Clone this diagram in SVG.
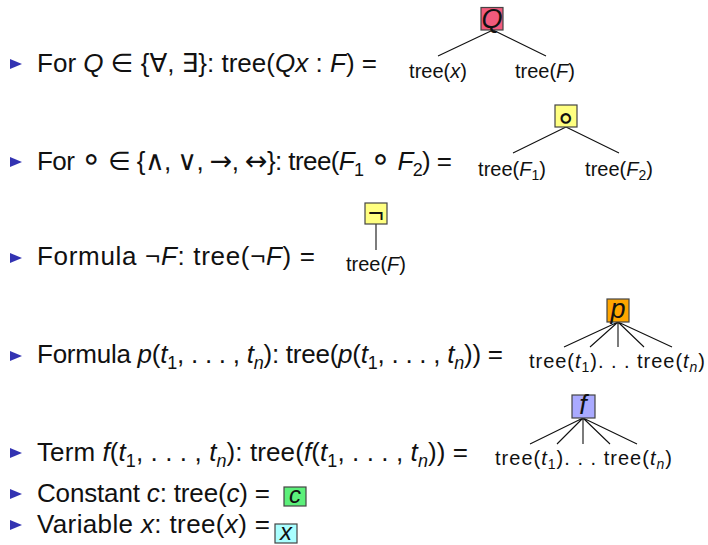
<svg xmlns="http://www.w3.org/2000/svg" width="708" height="545" viewBox="0 0 708 545">
<defs>
<style>
.t{font-family:"Liberation Sans","DejaVu Sans",sans-serif;font-size:26px;fill:#111}
.s{font-family:"Liberation Sans","DejaVu Sans",sans-serif;font-size:20px;fill:#111}
.b{font-family:"Liberation Sans","DejaVu Sans",sans-serif;font-size:27px;fill:#111}
.bs{font-family:"Liberation Sans","DejaVu Sans",sans-serif;font-size:24px;fill:#111}
.i{font-style:italic}
.sym{font-family:"DejaVu Sans",sans-serif;font-size:27px}
.ring{font-family:"DejaVu Sans",sans-serif;font-size:34px}
.sub{font-size:18px}
.ssub{font-size:14px}
.box{stroke:#444;stroke-width:1.2}
.edge{stroke:#111;stroke-width:1.1;fill:none}
.bul{fill:#3333b2}
</style>
<path id="bullet" d="M0,-5 L12,0 L0,5 Z"/>
</defs>
<rect width="708" height="545" fill="#fff"/>

<g id="bullets" class="bul">
<use href="#bullet" x="10" y="64"/>
<use href="#bullet" x="10" y="162"/>
<use href="#bullet" x="10" y="258"/>
<use href="#bullet" x="10" y="356"/>
<use href="#bullet" x="10" y="453"/>
<use href="#bullet" x="10" y="494"/>
<use href="#bullet" x="10" y="525"/>
</g>

<g id="lines">
<text class="t" x="37" y="72" textLength="340">For <tspan class="i">Q</tspan> ∈ {∀, ∃}: tree(<tspan class="i">Qx</tspan> : <tspan class="i">F</tspan>) =</text>
<text class="t" x="37" y="170" textLength="415">For <tspan class="ring">∘</tspan> ∈ {<tspan class="sym">∧</tspan>, <tspan class="sym">∨</tspan>, <tspan class="sym">→</tspan>, <tspan class="sym">↔</tspan>}: tree(<tspan class="i">F</tspan><tspan class="sub" dy="6">1</tspan><tspan dy="-6"> </tspan><tspan class="ring">∘</tspan> <tspan class="i">F</tspan><tspan class="sub" dy="6">2</tspan><tspan dy="-6">) =</tspan></text>
<text class="t" x="37" y="265" textLength="278">Formula ¬<tspan class="i">F</tspan>: tree(¬<tspan class="i">F</tspan>) =</text>
<text class="t" x="37" y="363" textLength="466">Formula <tspan class="i">p</tspan>(<tspan class="i">t</tspan><tspan class="sub" dy="6">1</tspan><tspan dy="-6">, . . . , </tspan><tspan class="i">t</tspan><tspan class="sub i" dy="6">n</tspan><tspan dy="-6">): tree(</tspan><tspan class="i">p</tspan>(<tspan class="i">t</tspan><tspan class="sub" dy="6">1</tspan><tspan dy="-6">, . . . , </tspan><tspan class="i">t</tspan><tspan class="sub i" dy="6">n</tspan><tspan dy="-6">)) =</tspan></text>
<text class="t" x="37" y="461" textLength="431">Term <tspan class="i">f</tspan>(<tspan class="i">t</tspan><tspan class="sub" dy="6">1</tspan><tspan dy="-6">, . . . , </tspan><tspan class="i">t</tspan><tspan class="sub i" dy="6">n</tspan><tspan dy="-6">): tree(</tspan><tspan class="i">f</tspan>(<tspan class="i">t</tspan><tspan class="sub" dy="6">1</tspan><tspan dy="-6">, . . . , </tspan><tspan class="i">t</tspan><tspan class="sub i" dy="6">n</tspan><tspan dy="-6">)) =</tspan></text>
<text class="t" x="37" y="502" textLength="233">Constant <tspan class="i">c</tspan>: tree(<tspan class="i">c</tspan>) =</text>
<text class="t" x="37" y="533" textLength="233">Variable <tspan class="i">x</tspan>: tree(<tspan class="i">x</tspan>) =</text>
</g>

<g id="connectors" class="edge">
<path d="M493,30 L438,56 M493,30 L546,56"/>
<path d="M566,127 L513,153 M566,127 L619,153"/>
<path d="M376,224 L376,250"/>
<path d="M618,322 L564,347 M618,322 L590,347 M618,322 L618,347 M618,322 L644,347 M618,322 L672,347"/>
<path d="M583,418 L530,444 M583,418 L557,444 M583,418 L583,444 M583,418 L610,444 M583,418 L637,444"/>
</g>

<g id="node-Q">
<rect class="box" x="481" y="7.5" width="22" height="22.5" fill="#f25a7c"/>
<text class="b i" x="492" y="28" text-anchor="middle">Q</text>
</g>
<g id="leaf-tree-x"><text class="s" x="438" y="78" text-anchor="middle">tree(<tspan class="i">x</tspan>)</text></g>
<g id="leaf-tree-F"><text class="s" x="545" y="78" text-anchor="middle">tree(<tspan class="i">F</tspan>)</text></g>

<g id="node-circ">
<rect class="box" x="555" y="105" width="22" height="22" fill="#ffff80"/>
<text class="ring" x="566" y="129" text-anchor="middle" fill="#111">∘</text>
</g>
<g id="leaf-tree-F1"><text class="s" x="512" y="176" text-anchor="middle">tree(<tspan class="i">F</tspan><tspan class="ssub" dy="4">1</tspan><tspan dy="-4">)</tspan></text></g>
<g id="leaf-tree-F2"><text class="s" x="619" y="176" text-anchor="middle">tree(<tspan class="i">F</tspan><tspan class="ssub" dy="4">2</tspan><tspan dy="-4">)</tspan></text></g>

<g id="node-neg">
<rect class="box" x="365" y="203" width="22" height="21" fill="#ffff80"/>
<text class="b" x="376" y="222" text-anchor="middle">¬</text>
</g>
<g id="leaf-tree-negF"><text class="s" x="376" y="271" text-anchor="middle">tree(<tspan class="i">F</tspan>)</text></g>

<g id="node-p">
<rect class="box" x="607" y="299" width="22" height="23" fill="#ffa500"/>
<text class="b i" x="618" y="318" text-anchor="middle">p</text>
</g>
<g id="leaves-p"><text class="s" x="529" y="368" textLength="176">tree(<tspan class="i">t</tspan><tspan class="ssub" dy="4">1</tspan><tspan dy="-4">). . . tree(</tspan><tspan class="i">t</tspan><tspan class="ssub i" dy="4">n</tspan><tspan dy="-4">)</tspan></text></g>

<g id="node-f">
<rect class="box" x="572" y="395" width="23" height="23" fill="#aaaaff"/>
<text class="b i" x="583" y="414" text-anchor="middle">f</text>
</g>
<g id="leaves-f"><text class="s" x="495" y="465" textLength="177">tree(<tspan class="i">t</tspan><tspan class="ssub" dy="4">1</tspan><tspan dy="-4">). . . tree(</tspan><tspan class="i">t</tspan><tspan class="ssub i" dy="4">n</tspan><tspan dy="-4">)</tspan></text></g>

<g id="node-c">
<rect class="box" x="284" y="487" width="22" height="19" fill="#5cf07a"/>
<text class="bs i" x="295" y="503" text-anchor="middle">c</text>
</g>
<g id="node-x">
<rect class="box" x="275" y="524" width="22" height="19" fill="#aaffff"/>
<text class="bs i" x="286" y="540" text-anchor="middle">x</text>
</g>
</svg>
